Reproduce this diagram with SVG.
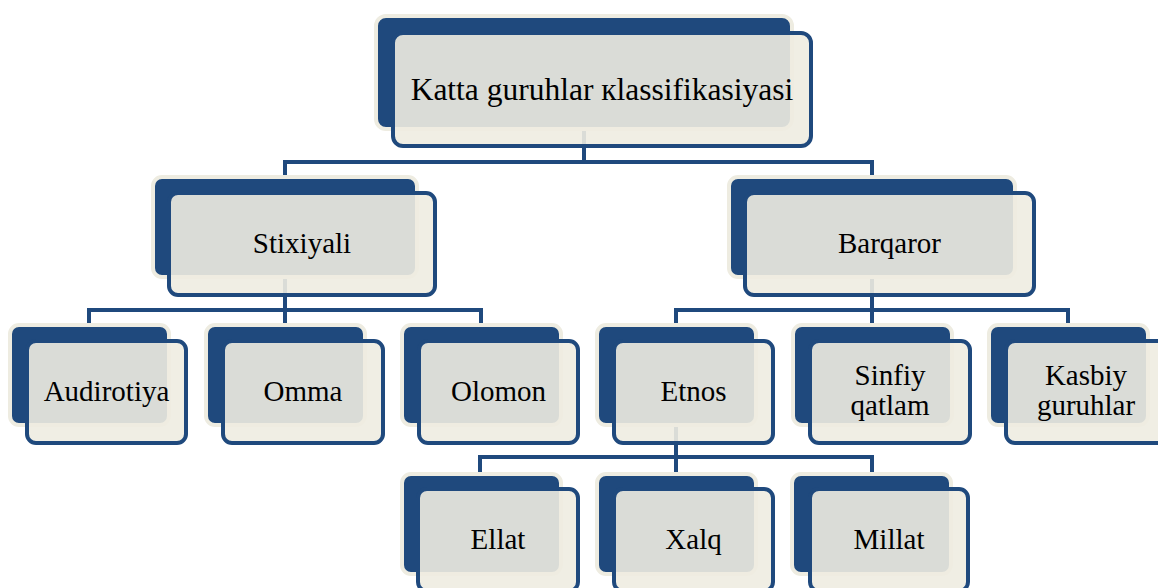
<svg xmlns="http://www.w3.org/2000/svg" width="1158" height="588" viewBox="0 0 1158 588">
<style>
.bk{fill:#1F497D;stroke:#EEECE1;stroke-width:4}
.fr{fill:#EEECE1;fill-opacity:0.9;stroke:#1F497D;stroke-width:4}
.ln{fill:none;stroke:#1F497D;stroke-width:4}
text{font-family:"Liberation Serif","Times New Roman",serif;font-size:29px;fill:#000;text-anchor:middle}
</style>
<rect width="1158" height="588" fill="#FFFFFF"/>
<g id="connectors">
<path class="ln" d="M285,179 V162 H872 V179 M584,127 V162"/>
<path class="ln" d="M89,327 V310 H481 V327 M285,275 V327"/>
<path class="ln" d="M676,327 V310 H1068 V327 M872,275 V327"/>
<path class="ln" d="M480,476 V457 H872 V476 M676,423 V476"/>
</g>
<g id="n-top">
<rect class="bk" x="376" y="16" width="416" height="113" rx="10"/>
<rect class="fr" x="393" y="33" width="418" height="113" rx="10"/>
<text x="602" y="100" style="font-size:31.5px">Katta guruhlar кlassifikasiyasi</text>
</g>
<g id="n-stixiyali">
<rect class="bk" x="153" y="177" width="264" height="100" rx="9"/>
<rect class="fr" x="169" y="193" width="266" height="102" rx="9"/>
<text x="302" y="253">Stixiyali</text>
</g>
<g id="n-barqaror">
<rect class="bk" x="729" y="177" width="286" height="100" rx="9"/>
<rect class="fr" x="745" y="193" width="289" height="102" rx="9"/>
<text x="889.5" y="253">Barqaror</text>
</g>
<g id="n-audirotiya">
<rect class="bk" x="10" y="325" width="159" height="100" rx="9"/>
<rect class="fr" x="27" y="341" width="159" height="102" rx="9"/>
<text x="106.5" y="401">Audirotiya</text>
</g>
<g id="n-omma">
<rect class="bk" x="206" y="325" width="159" height="100" rx="9"/>
<rect class="fr" x="223" y="341" width="160" height="102" rx="9"/>
<text x="303" y="401">Omma</text>
</g>
<g id="n-olomon">
<rect class="bk" x="402" y="325" width="159" height="100" rx="9"/>
<rect class="fr" x="419" y="341" width="159" height="102" rx="9"/>
<text x="498.5" y="401">Olomon</text>
</g>
<g id="n-etnos">
<rect class="bk" x="597" y="325" width="159" height="100" rx="9"/>
<rect class="fr" x="614" y="341" width="159" height="102" rx="9"/>
<text x="693.5" y="401">Etnos</text>
</g>
<g id="n-sinfiy">
<rect class="bk" x="793" y="325" width="159" height="100" rx="9"/>
<rect class="fr" x="810" y="341" width="160" height="102" rx="9"/>
<text x="890" y="385">Sinfiy</text>
<text x="890" y="415">qatlam</text>
</g>
<g id="n-kasbiy">
<rect class="bk" x="989" y="325" width="159" height="100" rx="9"/>
<rect class="fr" x="1006" y="341" width="160" height="102" rx="9"/>
<text x="1086" y="385">Kasbiy</text>
<text x="1086" y="415">guruhlar</text>
</g>
<g id="n-ellat">
<rect class="bk" x="402" y="474" width="159" height="100" rx="9"/>
<rect class="fr" x="418" y="489" width="160" height="102" rx="9"/>
<text x="498" y="549">Ellat</text>
</g>
<g id="n-xalq">
<rect class="bk" x="597" y="474" width="159" height="100" rx="9"/>
<rect class="fr" x="614" y="489" width="159" height="102" rx="9"/>
<text x="693.5" y="549">Xalq</text>
</g>
<g id="n-millat">
<rect class="bk" x="792" y="474" width="159" height="100" rx="9"/>
<rect class="fr" x="810" y="489" width="158" height="102" rx="9"/>
<text x="889" y="549">Millat</text>
</g>
</svg>
